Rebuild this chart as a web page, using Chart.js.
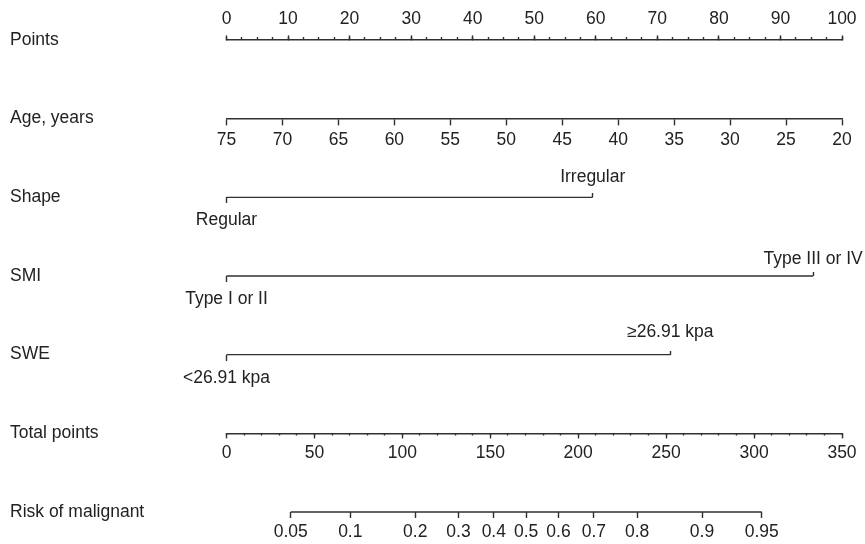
<!DOCTYPE html>
<html>
<head>
<meta charset="utf-8">
<script src="https://cdn.jsdelivr.net/npm/chart.js@4.4.1/dist/chart.umd.min.js"></script>
<style>
    html, body { margin: 0; padding: 0; background: #ffffff; }
    #wrap { width: 865px; height: 544px; position: relative; }
</style>
</head>
<body>
<div id="wrap"><canvas id="nomogram"></canvas></div>
<script>
// row titles, top to bottom
const rowLabels = ["Points", "Age, years", "Shape", "SMI", "SWE", "Total points", "Risk of malignant"];

const pointTicks = [0, 10, 20, 30, 40, 50, 60, 70, 80, 90, 100];
const ageTicks = [75, 70, 65, 60, 55, 50, 45, 40, 35, 30, 25, 20];

const shapeLevels = ["Regular", "Irregular"];
const shapePoints = [0, 59.5];
const smiLevels = ["Type I or II", "Type III or IV"];
const smiPoints = [0, 95.3];
const sweLevels = ["<26.91 kpa", "\u226526.91 kpa"];
const swePoints = [0, 72.1];

const totalTicks = [0, 50, 100, 150, 200, 250, 300, 350];

const riskLabels = ["0.05", "0.1", "0.2", "0.3", "0.4", "0.5", "0.6", "0.7", "0.8", "0.9", "0.95"];
const riskTotal = [36.5, 70.4, 107.3, 131.9, 152.0, 170.4, 188.8, 208.9, 233.5, 270.4, 304.4];

const INK = "#303030";
const TEXT = "#222222";
const FONT = { family: "'Liberation Sans', Arial, Helvetica, sans-serif", size: 17.5 };
const LINE_W = 1.4;

function xAxis(row, opts) {
    return {
        type: "linear",
        axis: "x",
        position: { y: row },
        min: opts.min,
        max: opts.max,
        reverse: Boolean(opts.reverse),
        afterBuildTicks: (scale) => {
            if (opts.values) {
                scale.ticks = opts.values.map((v) => ({ value: v }));
            }
        },
        afterFit: (scale) => {
            scale.paddingLeft = 0;
            scale.paddingRight = 0;
        },
        grid: {
            drawOnChartArea: false,
            drawTicks: true,
            tickLength: opts.tick,
            tickColor: INK,
            tickWidth: LINE_W,
        },
        border: { display: Boolean(opts.border), color: INK, width: LINE_W },
        ticks: {
            display: opts.labels !== undefined,
            stepSize: opts.step,
            autoSkip: false,
            maxRotation: 0,
            minRotation: 0,
            padding: opts.pad || 0,
            color: TEXT,
            font: FONT,
            callback: (value, index) => (opts.labels ? opts.labels[index] : value),
        },
    };
}

// lower label sits under the zero end, upper label above the far end
function levelAxes(row, levels, points, upperPad) {
    return {
        lo: xAxis(row, { min: 0, max: 100, values: [points[0]], labels: [levels[0]], tick: 6, pad: 6.7 }),
        hi: xAxis(row, { min: 0, max: 100, values: [points[1]], labels: [levels[1]], tick: -4, pad: upperPad }),
    };
}

function segment(row, from, to, axisId) {
    return {
        data: [{ x: from, y: row }, { x: to, y: row }],
        xAxisID: axisId,
        yAxisID: "y",
        showLine: true,
        borderColor: INK,
        borderWidth: LINE_W,
        pointRadius: 0,
        clip: false,
    };
}

const shapeAx = levelAxes(2, shapeLevels, shapePoints, -26.8);
const smiAx = levelAxes(3, smiLevels, smiPoints, -23.8);
const sweAx = levelAxes(4, sweLevels, swePoints, -29.3);

const scales = {
    y: {
        type: "linear",
        position: "left",
        min: 0,
        max: rowLabels.length - 1,
        reverse: true,
        afterBuildTicks: (scale) => {
            scale.ticks = rowLabels.map((_, i) => ({ value: i }));
        },
        afterFit: (scale) => {
            scale.width = 216.5;
        },
        grid: { display: false },
        border: { display: false },
        ticks: {
            autoSkip: false,
            crossAlign: "far",
            padding: 0,
            color: TEXT,
            font: FONT,
            callback: (value, index) => rowLabels[index],
        },
    },
    x: xAxis(0, { min: 0, max: 100, values: pointTicks, labels: pointTicks.map(String), tick: -5, pad: -26.5, border: true }),
    xMinor: xAxis(0, { min: 0, max: 100, step: 2.5, tick: -3 }),
    age: xAxis(1, { min: 20, max: 75, reverse: true, values: ageTicks, labels: ageTicks.map(String), tick: 6, pad: 5, border: true }),
    shapeLo: shapeAx.lo,
    shapeHi: shapeAx.hi,
    smiLo: smiAx.lo,
    smiHi: smiAx.hi,
    sweLo: sweAx.lo,
    sweHi: sweAx.hi,
    total: xAxis(5, { min: 0, max: 350, values: totalTicks, labels: totalTicks.map(String), tick: 4, pad: 5.3, border: true }),
    totalMinor: xAxis(5, { min: 0, max: 350, step: 10, tick: 2.5 }),
    risk: xAxis(6, { min: 0, max: 350, values: riskTotal, labels: riskLabels, tick: 6, pad: 3.5 }),
};

const datasets = [
    segment(2, shapePoints[0], shapePoints[1], "x"),
    segment(3, smiPoints[0], smiPoints[1], "x"),
    segment(4, swePoints[0], swePoints[1], "x"),
    segment(6, riskTotal[0], riskTotal[riskTotal.length - 1], "total"),
];

new Chart(document.getElementById("nomogram"), {
    type: "scatter",
    data: { datasets },
    options: {
        responsive: true,
        maintainAspectRatio: false,
        animation: false,
        layout: { padding: { left: 10, top: 40, right: 23, bottom: 32 } },
        plugins: {
            legend: { display: false },
            tooltip: { enabled: false },
        },
        scales,
    },
});
</script>
</body>
</html>
